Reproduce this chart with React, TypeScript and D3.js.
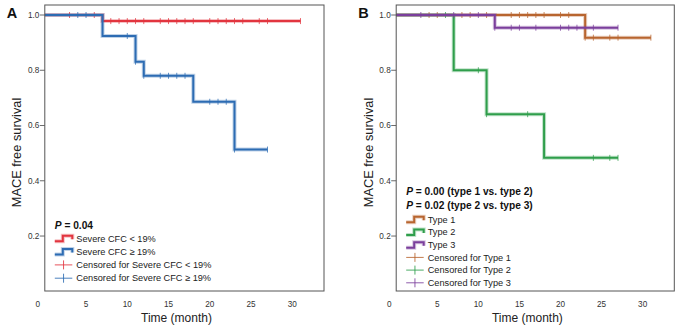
import React from "react";
import * as d3 from "d3";

// ---------- Data ----------
// Panel A
const aLowTimes = [0, 7, 31];
const aLowSurv = [1, 0.978, 0.978];
const aLowCensor = [3, 6, 8, 9, 10, 11, 12, 14, 15, 16, 17, 18, 20, 21, 22, 23, 24, 26, 27, 31];

const aHighTimes = [0, 7, 11, 12, 18, 23, 27];
const aHighSurv = [1, 0.924, 0.831, 0.78, 0.686, 0.513, 0.513];
const aHighCensor = [4, 5, 10, 11, 12, 14, 15, 16, 17, 20, 21, 22, 23, 27];

// Panel B
const bType1Times = [0, 23, 31];
const bType1Surv = [1, 0.918, 0.918];
const bType1Censor = [4, 5, 8, 9, 11, 14, 15, 16, 17, 18, 20, 21, 23, 24, 26, 27, 31];

const bType2Times = [0, 7, 11, 18, 27];
const bType2Surv = [1, 0.8, 0.641, 0.483, 0.483];
const bType2Censor = [6, 10, 11, 16, 24, 26, 27];

const bType3Times = [0, 12, 27];
const bType3Surv = [1, 0.954, 0.954];
const bType3Censor = [3, 7, 10, 12, 14, 15, 17, 20, 21, 22, 24, 27];

const xTicks = [0, 5, 10, 15, 20, 25, 30];
const yTicks = [0.2, 0.4, 0.6, 0.8, 1.0];

const legendA = [
  "Severe CFC < 19%",
  "Severe CFC \u2265 19%",
  "Censored for Severe CFC < 19%",
  "Censored for Severe CFC \u2265 19%",
];
const legendB = [
  "Type 1",
  "Type 2",
  "Type 3",
  "Censored for Type 1",
  "Censored for Type 2",
  "Censored for Type 3",
];

const RED = "#e2353f";
const BLUE = "#2d6cb3";
const ORANGE = "#b8652f";
const GREEN = "#2f9e4b";
const PURPLE = "#7b3f9c";

const FONT = "'Liberation Sans', Arial, sans-serif";

type Series = { times: number[]; surv: number[]; censor: number[]; color: string };

function survAt(times: number[], surv: number[], t: number) {
  let v = surv[0];
  for (let i = 0; i < times.length; i++) if (times[i] <= t) v = surv[i];
  return v;
}

function Panel({
  left, right, series, letter, pLines, pY, legend, legendY, legendStep,
}: {
  left: number; right: number; series: Series[]; letter: string;
  pLines: string[]; pY: number[]; legend: string[]; legendY: number; legendStep: number;
}) {
  const top = 5, bottom = 291;
  const x = d3.scaleLinear().domain([0, 33.85]).range([left, right]);
  const y = d3.scaleLinear().domain([0, 1]).range([291.3, 15]);
  const line = d3
    .line<[number, number]>()
    .x((d) => x(d[0]))
    .y((d) => y(d[1]))
    .curve(d3.curveStepAfter);

  const nLines = series.length;
  const lx = left + 10;
  return (
    <g>
      <text x={left - 38} y={18} fontSize={14.5} fontWeight="bold" fontFamily={FONT} fill="#111">
        {letter}
      </text>
      {yTicks.map((t) => (
        <g key={t}>
          <line x1={left - 5} x2={left} y1={y(t)} y2={y(t)} stroke="#444" strokeWidth={0.8} />
          <text x={left - 5.5} y={y(t) + 2.8} fontSize={8.2} textAnchor="end" fontFamily={FONT} fill="#333">
            {t.toFixed(1)}
          </text>
        </g>
      ))}
      {xTicks.map((t) => (
        <text
          key={t}
          x={t === 0 ? x(0) - 7 : x(t)}
          y={307}
          fontSize={8.2}
          textAnchor="middle"
          fontFamily={FONT}
          fill="#333"
        >
          {t}
        </text>
      ))}
      <text
        x={(x(0) + x(30)) / 2 + 8}
        y={322}
        fontSize={12}
        textAnchor="middle"
        fontFamily={FONT}
        fill="#222"
      >
        Time (month)
      </text>
      <text
        transform={`translate(${left - 28},152.5) rotate(-90)`}
        fontSize={12.8}
        textAnchor="middle"
        fontFamily={FONT}
        fill="#222"
        dy="0.35em"
      >
        MACE free survival
      </text>
      {series.map((s, i) => {
        const pts: [number, number][] = s.times.map((t, j) => [t, s.surv[j]]);
        const d = line(pts) || "";
        return (
          <g key={i}>
            <path d={d} fill="none" stroke={s.color} strokeOpacity={0.3} strokeWidth={4} />
            <path d={d} fill="none" stroke={s.color} strokeWidth={2} />
            {s.censor.map((c, k) => {
              const v = survAt(s.times, s.surv, c);
              return (
                <line
                  key={k}
                  x1={x(c)}
                  x2={x(c)}
                  y1={y(v) - 3}
                  y2={y(v) + 3}
                  stroke={s.color}
                  strokeOpacity={0.75}
                  strokeWidth={1}
                />
              );
            })}
          </g>
        );
      })}
      {pLines.map((p, i) => (
        <text
          key={i}
          x={lx}
          y={pY[i] + 3.6}
          fontSize={10.2}
          fontWeight="bold"
          fontFamily={FONT}
          fill="#111"
        >
          <tspan fontStyle="italic">P</tspan>
          {p}
        </text>
      ))}
      {legend.map((label, i) => {
        const cy = legendY + i * legendStep;
        const s = series[i % nLines];
        const isCensor = i >= nLines;
        const x0 = lx, x1 = lx + 17.5;
        return (
          <g key={i}>
            {isCensor ? (
              <g>
                <line x1={x0} x2={x1} y1={cy} y2={cy} stroke={s.color} strokeWidth={1} strokeOpacity={0.85} />
                <line x1={(x0 + x1) / 2} x2={(x0 + x1) / 2} y1={cy - 4.5} y2={cy + 4.5} stroke={s.color} strokeWidth={1} strokeOpacity={0.85} />
              </g>
            ) : (
              <g>
                <path
                  d={`M${x0},${cy + 3} H${x0 + 8} V${cy - 2.5} H${x1} V${cy + 1}`}
                  fill="none"
                  stroke={s.color}
                  strokeOpacity={0.3}
                  strokeWidth={4}
                />
                <path
                  d={`M${x0},${cy + 3} H${x0 + 8} V${cy - 2.5} H${x1} V${cy + 1}`}
                  fill="none"
                  stroke={s.color}
                  strokeWidth={2}
                />
              </g>
            )}
            <text x={x1 + 4} y={cy + 3.2} fontSize={9.2} fontFamily={FONT} fill="#222">
              {label}
            </text>
          </g>
        );
      })}
      <rect x={left} y={top} width={right - left} height={bottom - top} fill="none" stroke="#555" strokeWidth={1} />
    </g>
  );
}

export default function App() {
  const seriesA: Series[] = [
    { times: aLowTimes, surv: aLowSurv, censor: aLowCensor, color: RED },
    { times: aHighTimes, surv: aHighSurv, censor: aHighCensor, color: BLUE },
  ];
  const seriesB: Series[] = [
    { times: bType1Times, surv: bType1Surv, censor: bType1Censor, color: ORANGE },
    { times: bType2Times, surv: bType2Surv, censor: bType2Censor, color: GREEN },
    { times: bType3Times, surv: bType3Surv, censor: bType3Censor, color: PURPLE },
  ];
  return (
    <svg
      width={684}
      height={329}
      style={{ position: "absolute", left: 0, top: 0, background: "#fff" }}
    >
      <rect width={684} height={329} fill="#fff" />
      <Panel
        left={44.8}
        right={324}
        series={seriesA}
        letter="A"
        pLines={[" = 0.04"]}
        pY={[225.7]}
        legend={legendA}
        legendY={238.3}
        legendStep={13.3}
      />
      <Panel
        left={396.2}
        right={674.3}
        series={seriesB}
        letter="B"
        pLines={[" = 0.00 (type 1 vs. type 2)", " = 0.02 (type 2 vs. type 3)"]}
        pY={[191, 205.3]}
        legend={legendB}
        legendY={219.3}
        legendStep={12.7}
      />
    </svg>
  );
}
